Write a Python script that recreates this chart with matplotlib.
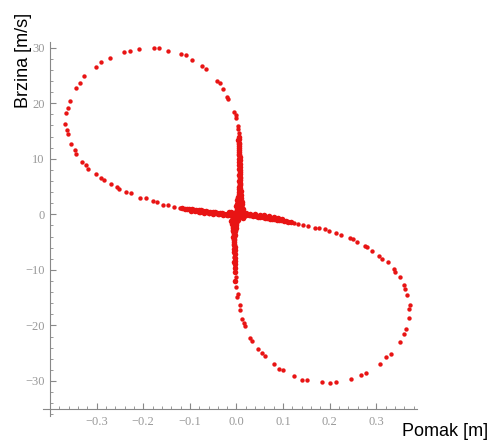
import matplotlib
matplotlib.use('Agg')
import matplotlib.pyplot as plt
from matplotlib.ticker import MultipleLocator, FuncFormatter

# upper loop (sparse points), Pomak [m] / Brzina [m/s]
upper_x = [-0.177, -0.166, -0.209, -0.229, -0.241, -0.272, -0.291, -0.301, -0.327, -0.336,
           -0.344, -0.357, -0.361, -0.365, -0.368, -0.363, -0.362, -0.355, -0.347, -0.344,
           -0.332, -0.322, -0.319, -0.301, -0.291, -0.285, -0.269, -0.256, -0.253, -0.237,
           -0.226, -0.207, -0.194, -0.179, -0.171, -0.157, -0.147, -0.133, -0.121,
           -0.147, -0.119, -0.109, -0.096, -0.074, -0.066, -0.042, -0.036, -0.030, -0.021,
           -0.018, -0.006, -0.002, -0.001, 0.003, 0.004, 0.005]
upper_y = [29.9, 29.9, 29.7, 29.5, 29.2, 28.2, 27.4, 26.6, 24.9, 23.7,
           22.8, 20.5, 19.2, 18.3, 16.3, 15.2, 14.5, 12.6, 11.5, 10.9,
           9.4, 8.8, 8.2, 7.3, 6.5, 6.1, 5.5, 5.0, 4.6, 4.0,
           3.8, 3.0, 2.9, 2.4, 2.2, 1.75, 1.6, 1.33, 1.15,
           29.5, 28.9, 28.7, 27.8, 26.8, 26.2, 24.1, 23.6, 22.6, 21.2,
           20.8, 18.4, 17.9, 17.3, 15.9, 15.4, 14.7]

# lower loop (sparse points)
lower_x = [0.123, 0.132, 0.143, 0.153, 0.168, 0.177, 0.189, 0.198, 0.214, 0.225,
           0.243, 0.250, 0.258, 0.275, 0.280, 0.291, 0.306, 0.313, 0.324, 0.337,
           0.341, 0.350, 0.359, 0.362, 0.366, 0.373, 0.371, 0.371, 0.364, 0.359,
           0.350, 0.332, 0.321, 0.307, 0.277, 0.266, 0.246, 0.214, 0.201, 0.183,
           0.151, 0.141, 0.124, 0.099, 0.091, 0.080, 0.062, 0.055, 0.047, 0.034,
           0.030, 0.019, 0.016, 0.011, 0.007, 0.007, 0.004, 0.002, 0.000, -0.002,
           -0.004, -0.005]
lower_y = [-1.49, -1.67, -1.85, -2.03, -2.39, -2.50, -2.68, -2.99, -3.40, -3.76,
           -4.19, -4.43, -4.91, -5.69, -5.92, -6.53, -7.43, -8.08, -8.62, -9.77,
           -10.4, -11.2, -12.8, -13.5, -14.5, -16.4, -17.1, -18.6, -20.7, -21.5,
           -22.9, -25.2, -25.7, -26.9, -28.6, -29.0, -29.6, -30.1, -30.4, -30.2,
           -29.8, -29.8, -29.1, -28.0, -27.8, -26.9, -25.5, -24.9, -24.3, -22.8,
           -22.2, -20.1, -19.5, -18.8, -17.2, -16.3, -14.3, -14.8, -13.0, -11.2,
           -9.4, -7.6]

# dense streaks through the origin
vert_x = [0.005, 0.004, 0.005, 0.005, 0.006, 0.005, 0.006, 0.006, 0.006, 0.006,
          0.007, 0.006, 0.007, 0.006, 0.007, 0.006, 0.006, 0.005, 0.006, 0.004,
          0.005, 0.003, 0.004, 0.008, 0.008, 0.007, 0.001, 0.007,
          -0.003, -0.003, -0.005, -0.006, -0.005, -0.006, -0.005, -0.006, -0.004, -0.005,
          -0.003, -0.004, -0.002, -0.008, -0.007, -0.007, -0.001,
          0.005, 0.005, 0.006, 0.006, 0.006, 0.007, 0.007, 0.007, 0.007, 0.007,
          0.008, 0.008, 0.007, 0.008, 0.007, 0.008, 0.009, 0.008, 0.009, 0.009,
          0.010, 0.011, 0.012, 0.010, 0.012, 0.014,
          -0.012, -0.009, -0.008, -0.007, -0.006, -0.006, -0.005, -0.005, -0.004, -0.004,
          -0.004, -0.003, -0.003, -0.003, -0.003]
vert_y = [14.0, 13.3, 12.6, 12.0, 11.3, 10.6, 10.0, 9.4, 8.8, 8.2,
          7.6, 7.0, 6.5, 6.0, 5.5, 5.0, 4.5, 4.0, 3.6, 3.2,
          2.8, 2.4, 2.0, 4.2, 3.4, 2.6, 1.8, 1.6,
          -12.0, -10.3, -8.5, -6.8, -6.2, -5.6, -5.0, -4.4, -3.8, -3.3,
          -2.8, -2.3, -1.9, -4.0, -3.0, -2.2, -1.6,
          13.6, 12.9, 12.3, 11.6, 10.9, 10.3, 9.7, 9.1, 8.5, 7.9,
          7.3, 6.7, 6.2, 5.7, 5.2, 4.7, 4.2, 3.8, 3.4, 3.0,
          2.6, 2.2, 1.9, 1.5, 1.2, 0.9,
          -1.2, -1.8, -2.4, -2.9, -3.5, -4.1, -4.7, -5.3, -5.9, -6.5,
          -7.1, -7.8, -8.4, -9.0, -9.7]

horiz_x = [-0.116, -0.111, -0.106, -0.101, -0.096, -0.091, -0.086, -0.081, -0.076, -0.071,
           -0.066, -0.061, -0.056, -0.051, -0.046, -0.041, -0.036, -0.031, -0.026, -0.021,
           -0.016, -0.011, -0.08, -0.07, -0.06, -0.05, -0.04, -0.03, -0.02, -0.01,
           0.011, 0.016, 0.021, 0.026, 0.031, 0.036, 0.041, 0.046, 0.051, 0.056,
           0.061, 0.066, 0.071, 0.076, 0.081, 0.086, 0.091, 0.096, 0.101, 0.106,
           0.111, 0.116, 0.01, 0.02, 0.03, 0.04, 0.05, 0.06, 0.07, 0.08,
           -0.098, -0.088, -0.078, -0.068, -0.058, -0.048, -0.038, -0.028, -0.018,
           0.018, 0.028, 0.038, 0.048, 0.058, 0.068, 0.078, 0.088, 0.098]
horiz_y = [1.1, 1.05, 1.0, 0.95, 0.9, 0.85, 0.8, 0.75, 0.7, 0.62,
           0.58, 0.5, 0.45, 0.4, 0.35, 0.3, 0.25, 0.2, 0.15, 0.1,
           0.05, 0.0, 0.35, 0.3, 0.2, 0.1, 0.0, -0.1, -0.2, -0.3,
           0.1, -0.05, -0.1, -0.15, -0.2, -0.3, -0.35, -0.4, -0.5, -0.55,
           -0.6, -0.7, -0.75, -0.8, -0.9, -0.95, -1.0, -1.1, -1.15, -1.2,
           -1.3, -1.4, 0.4, 0.25, 0.15, 0.05, -0.05, -0.15, -0.3, -0.4,
           0.65, 0.55, 0.5, 0.4, 0.3, 0.25, 0.15, 0.05, -0.05,
           0.05, -0.1, -0.2, -0.3, -0.35, -0.5, -0.6, -0.7, -0.8]

center_x = [0.000, 0.002, -0.002, 0.001, -0.003, 0.003, -0.001, 0.004, -0.004, 0.006,
            -0.006, 0.008, -0.008, 0.010, -0.010, 0.005, -0.005, 0.012, -0.012, 0.015,
            -0.015, 0.003, -0.003, 0.002, -0.002, 0.011, -0.009, 0.013, -0.011, 0.016]
center_y = [1.5, 1.0, 0.5, 0.0, -0.5, -1.0, -1.5, 2.0, -2.0, 0.8,
            -0.8, 0.3, -0.3, -0.2, 0.2, -0.3, 0.3, -0.4, 0.4, -0.6,
            0.5, 3.0, -3.0, 2.5, -2.5, 1.0, -1.0, 0.2, -0.1, -0.3]

fig = plt.figure(figsize=(4.92, 4.45), dpi=100)
ax = fig.add_axes([0.0874, 0.0652, 0.760, 0.840])

red = '#e81414'
ax.scatter(upper_x + lower_x, upper_y + lower_y, s=10, color=red, linewidths=0, zorder=3)
# the overlapping points near the origin look like thicker solid strokes
ax.scatter(vert_x + horiz_x + center_x, vert_y + horiz_y + center_y,
           s=16, color=red, linewidths=0, zorder=3)

ax.set_xlim(-0.415, 0.387)
ax.set_ylim(-36.3, 31.0)

# mathematica-like crossing axes
for side in ['top', 'right']:
    ax.spines[side].set_visible(False)
ax.spines['left'].set_position(('data', -0.4))
ax.spines['bottom'].set_position(('data', -35))
for side in ['left', 'bottom']:
    ax.spines[side].set_color('#888888')
    ax.spines[side].set_linewidth(0.8)

ax.xaxis.set_minor_locator(MultipleLocator(0.02))
ax.yaxis.set_major_locator(MultipleLocator(10))
ax.yaxis.set_minor_locator(MultipleLocator(2))

def fmt_x(v, pos):
    return ('%.1f' % v).replace('-', '\u2212')

def fmt_y(v, pos):
    if v < -34:
        return ''
    return ('%d' % round(v)).replace('-', '\u2212')

ax.set_xticks([-0.3, -0.2, -0.1, 0.0, 0.1, 0.2, 0.3])
ax.xaxis.set_major_formatter(FuncFormatter(fmt_x))
ax.yaxis.set_major_formatter(FuncFormatter(fmt_y))

ax.tick_params(which='major', direction='in', length=4, width=0.8, color='#888888',
               labelcolor='#999999', labelsize=9)
ax.tick_params(which='minor', direction='in', length=2, width=0.6, color='#888888')
ax.tick_params(axis='x', pad=5)
ax.tick_params(axis='y', pad=4)
for lab in ax.get_xticklabels() + ax.get_yticklabels():
    lab.set_family('Liberation Serif')

fig.text(0.047, 0.972, 'Brzina [m/s]', rotation=90, ha='center', va='top',
         fontsize=13, family='Liberation Sans', color='black')
fig.text(0.992, 0.02, 'Pomak [m]', ha='right', va='baseline',
         fontsize=13, family='Liberation Sans', color='black')

fig.savefig('out.png', dpi=100)
